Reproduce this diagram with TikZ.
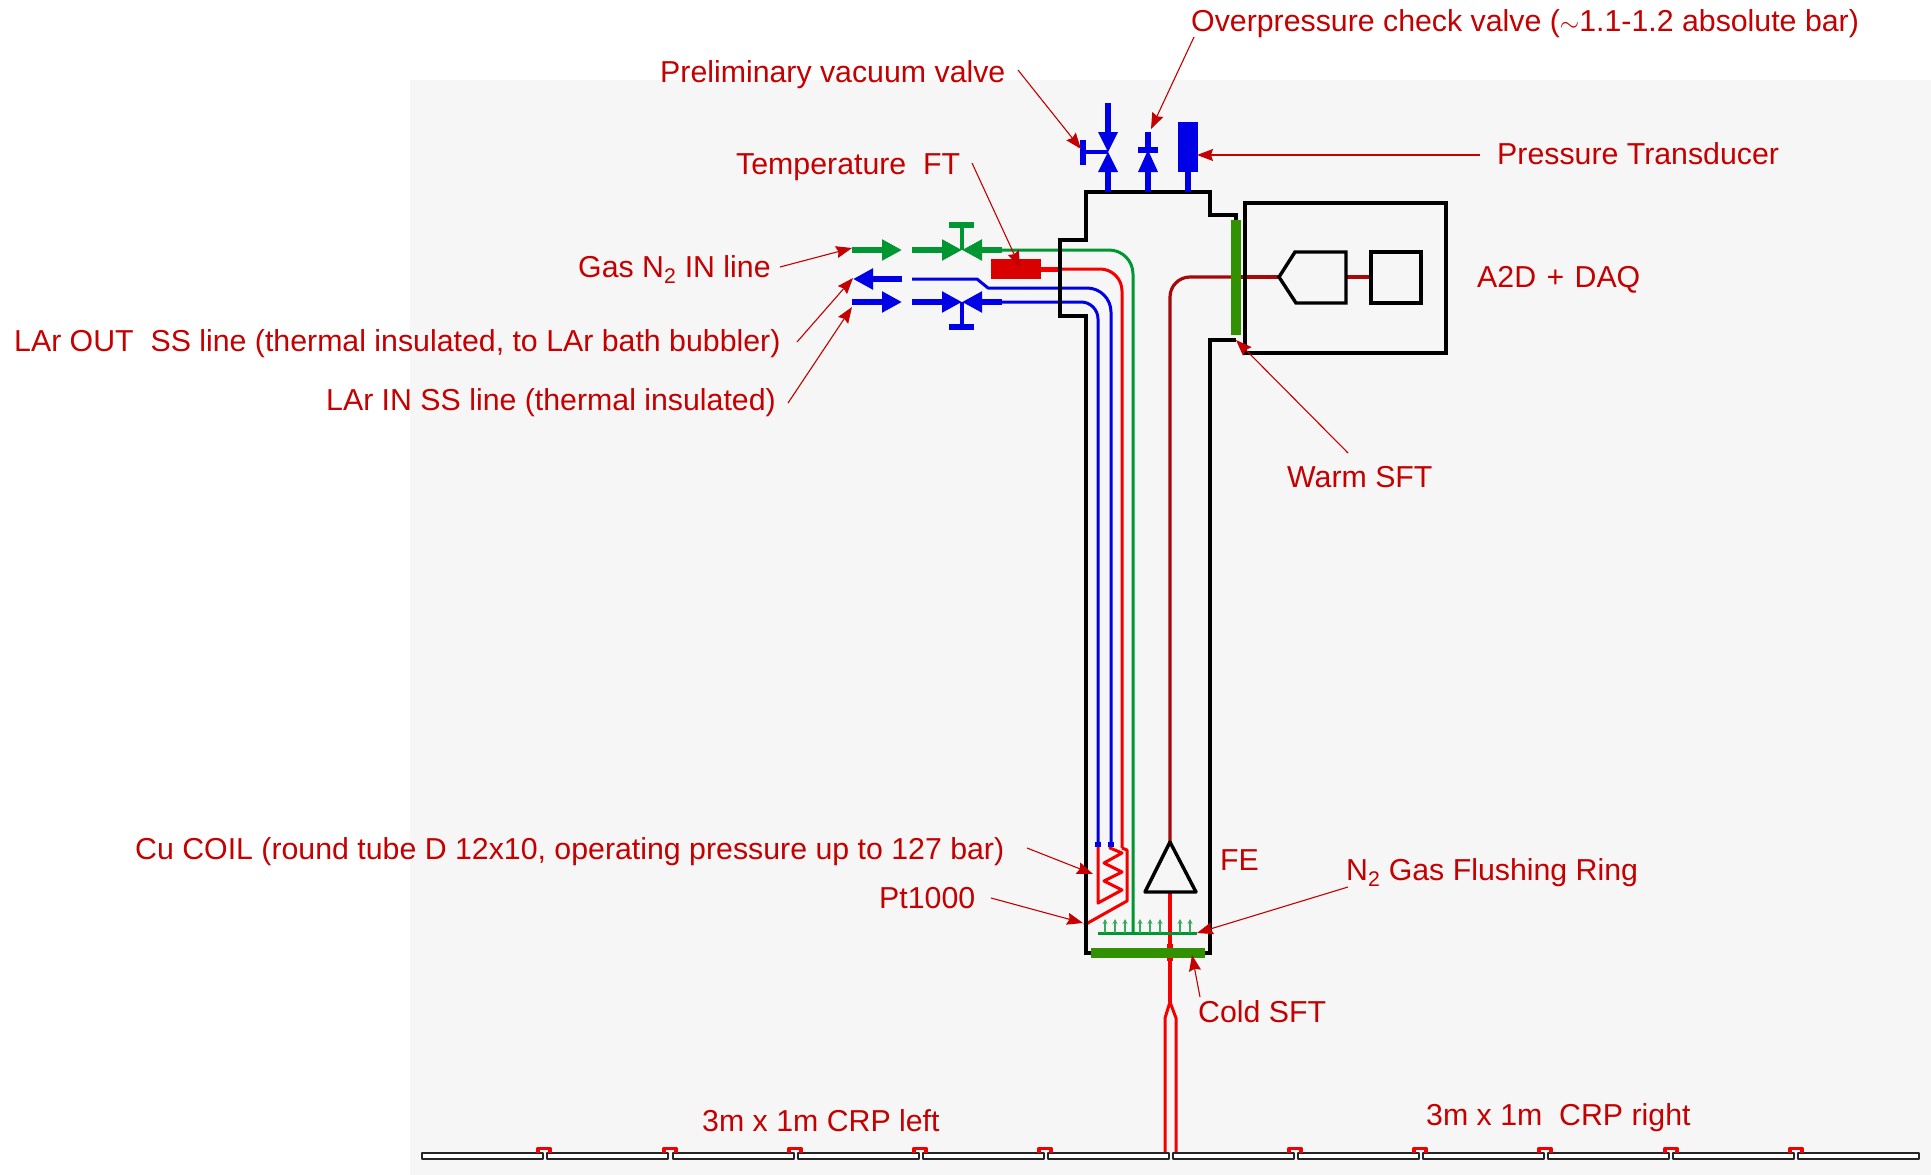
\documentclass[tikz,border=0pt]{standalone}
\usepackage{fontspec}
\setmainfont{Liberation Sans}
\usetikzlibrary{arrows.meta}
\definecolor{bgcol}{RGB}{246,246,246}
\definecolor{lblcol}{RGB}{196,0,0}
\definecolor{bluecol}{RGB}{0,0,230}
\definecolor{greencol}{RGB}{0,150,50}
\definecolor{sftcol}{RGB}{50,145,0}
\definecolor{dredcol}{RGB}{165,10,10}
\definecolor{redcol}{RGB}{245,0,0}
\tikzset{
  lbl/.style={text=lblcol,font=\fontsize{30.3}{33}\selectfont,inner sep=0pt,anchor=base west,yshift=1.5pt},
  call/.style={draw=lblcol,line width=1.1pt,-{Stealth[length=16pt,width=12pt,inset=2pt]}},
  wall/.style={draw=black,line width=3.4pt,line join=miter},
  flow/.style={line width=5.2pt,-{Triangle[length=20pt,width=20pt]}},
  stub/.style={line width=5.2pt},
  pipe/.style={line width=3pt,rounded corners=#1},
  panel/.style={draw=black!85,fill=white,line width=2pt},
  sft/.style={fill=sftcol,draw=none},
}
\begin{document}
\begin{tikzpicture}[x=1pt,y=-1pt,line join=round]
\useasboundingbox (0,0) rectangle (1931,1175);
\fill[bgcol] (410,80) rectangle (1931,1175);
% pipes to the coil and the ring
\draw[greencol,pipe=24pt] (1002,250)--(1133,250)--(1133,933);
\draw[redcol,pipe=22pt] (1041,269)--(1122,269)--(1122,848);
\draw[redcol,line width=3pt] (1122,848)--(1127,850)--(1127,901)--(1086,924);
\draw[bluecol,line width=3pt] (912,279)--(977,279)--(988,288)--(1030,288);
\draw[bluecol,pipe=24pt] (1030,288)--(1111,288)--(1111,845);
\draw[bluecol,pipe=17pt] (1002,302)--(1098,302)--(1098,845);
\draw[redcol,line width=3pt] (1098,845)--(1098,903)--(1122,890)--(1104,881)--(1122,872)--(1104,863)--(1122,853)--(1110,848)--(1110,845);
\fill[redcol] (1086,924) circle (2.5pt);
\foreach \i in {1098,1111}
\fill[bluecol] (\i-3,842) rectangle (\i+3,847);
\draw[redcol,line width=5pt] (1041,269)--(1060,269);
% signal line
\draw[dredcol,line width=3.2pt,rounded corners=20pt] (1170,842)--(1170,277)--(1231,277);
\draw[dredcol,line width=3.2pt] (1231,277)--(1279,277) (1346,277)--(1371,277);
\draw[redcol,line width=3.4pt] (1170,892)--(1170,1002);
\fill[redcol] (1167,944) rectangle (1173,961);
\draw[redcol,line width=3pt] (1165,1153)--(1165,1018)--(1170,1002)--(1176,1018)--(1176,1153);
% chimney
\draw[wall] (1236,220)--(1236,215)--(1210,215)--(1210,192)--(1086,192)--(1086,240)--(1060,240)--(1060,316)--(1086,316)--(1086,953)--(1210,953)--(1210,340)--(1236,340);
% flushing ring
\draw[greencol,line width=3pt] (1098,933)--(1197,933);
\foreach \i in {1105,1115,1125,1140,1150,1160,1180,1190}
\draw[greencol!80,line width=1.1pt,-{Stealth[length=5pt,width=5pt]}] (\i,933)--(\i,919);
% front end
\draw[wall,fill=bgcol,line join=round] (1170,842)--(1196,892)--(1145,892)--cycle;
% feedthroughs
\fill[sft] (1091,948) rectangle (1205,958);
\fill[sft] (1231,220) rectangle (1241,335);
% A2D + DAQ box
\draw[wall] (1245,203) rectangle (1446,353);
\draw[wall] (1279,277)--(1295,252)--(1346,252)--(1346,303)--(1296,303)--cycle;
\draw[wall] (1371,252) rectangle (1421,303);
% valves on top
\draw[bluecol,stub] (1108,103)--(1108,132);
\fill[bluecol] (1098,132)--(1118,132)--(1108,152)--cycle;
\fill[bluecol] (1098,172)--(1118,172)--(1108,152)--cycle;
\draw[bluecol,stub] (1108,172)--(1108,192);
\draw[bluecol,line width=3.4pt] (1108,152)--(1083,152);
\draw[bluecol,stub] (1083,140)--(1083,165);
\draw[bluecol,stub] (1148,132)--(1148,150);
\draw[bluecol,stub] (1138,150)--(1158,150);
\fill[bluecol] (1138,172)--(1158,172)--(1148,150)--cycle;
\draw[bluecol,stub] (1148,172)--(1148,192);
\fill[bluecol] (1178,122) rectangle (1198,172);
\draw[bluecol,stub] (1188,172)--(1188,192);
% lines on the left
\draw[greencol,flow] (852,250)--(902,250);
\draw[greencol,flow] (912,250)--(962,250);
\draw[greencol,flow] (1002,250)--(962,250);
\draw[greencol,line width=3.4pt] (962,250)--(962,225);
\draw[greencol,stub] (949,225)--(974,225);
\draw[bluecol,flow] (902,279)--(853,279);
\draw[bluecol,flow] (852,302)--(902,302);
\draw[bluecol,flow] (912,302)--(962,302);
\draw[bluecol,flow] (1002,302)--(962,302);
\draw[bluecol,line width=3.4pt] (962,302)--(962,327);
\draw[bluecol,stub] (949,327)--(974,327);
\fill[red!85!black] (991,259) rectangle (1041,279);
% crp panels
\foreach \i in {422,547,673,798,923,1048,1173,1298,1423,1548,1673,1798}
\draw[panel] (\i,1153) rectangle ++(121,6);
\foreach \i in {544,670,795,920,1045,1295,1420,1545,1671,1796}
\draw[redcol,line width=3.4pt] (\i-6,1153)--(\i-6,1148.5)--(\i+6,1148.5)--(\i+6,1153);
% labels
\node[lbl] (overL) at (1191,33) {Overpressure check valve ($\sim$1.1-1.2 absolute bar)};
\node[lbl] (vacL) at (660,84) {Preliminary vacuum valve};
\node[lbl] (pressL) at (1497,166) {Pressure Transducer};
\node[lbl] (tempL) at (736,176) {Temperature\ \ FT};
\node[lbl] (gasL) at (578,279) {Gas N\textsubscript{2} IN line};
\node[lbl] (outL) at (14,353) {LAr OUT\ \ SS line (thermal insulated, to LAr bath bubbler)};
\node[lbl] (inL) at (326,412) {LAr IN SS line (thermal insulated)};
\node[lbl] (daqL) at (1477,289) {A2D\hspace{2pt} + \hspace{2pt}DAQ};
\node[lbl] (warmL) at (1287,489) {Warm SFT};
\node[lbl] (coilL) at (135,861) {Cu COIL (round tube D 12x10, operating pressure up to 127 bar)};
\node[lbl] (ptL) at (879,910) {Pt1000};
\node[lbl] (feL) at (1220,872) {FE};
\node[lbl] (ringL) at (1346,882) {N\textsubscript{2} Gas Flushing Ring};
\node[lbl] (coldL) at (1198,1024) {Cold SFT};
\node[lbl] (leftL) at (702,1133) {3m x 1m CRP left};
\node[lbl] (rightL) at (1426,1127) {3m x 1m\ \ CRP right};
% callouts
\coordinate (overS) at (1194,37); \coordinate (overT) at (1151,129);
\coordinate (vacS) at (1018,70); \coordinate (vacT) at (1081,149);
\coordinate (pressS) at (1480,155); \coordinate (pressT) at (1197,155);
\coordinate (tempS) at (972,163); \coordinate (tempT) at (1020,267);
\coordinate (gasS) at (780,267); \coordinate (gasT) at (852,248);
\coordinate (outS) at (797,342); \coordinate (outT) at (853,278);
\coordinate (inS) at (788,403); \coordinate (inT) at (852,307);
\coordinate (warmS) at (1348,453); \coordinate (warmT) at (1236,340);
\coordinate (coilS) at (1027,848); \coordinate (coilT) at (1093,874);
\coordinate (ptS) at (991,898); \coordinate (ptT) at (1083,923);
\coordinate (ringS) at (1348,887); \coordinate (ringT) at (1197,933);
\coordinate (coldS) at (1200,997); \coordinate (coldT) at (1192,955);
\foreach \n in {over,vac,press,temp,gas,out,in,warm,coil,pt,ring,cold}
\draw[call] (\n S)--(\n T);
\end{tikzpicture}
\end{document}
